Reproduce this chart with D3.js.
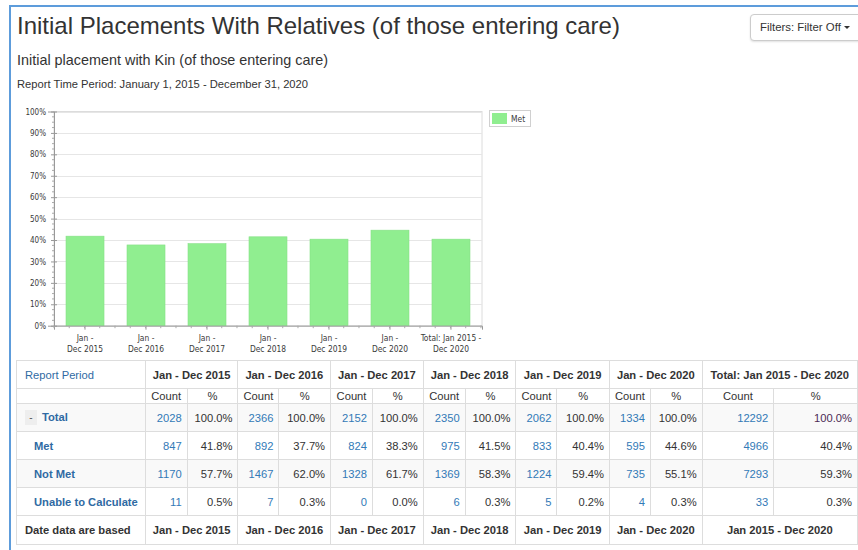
<!DOCTYPE html>
<html>
<head>
<meta charset="utf-8">
<script src="https://cdn.jsdelivr.net/npm/d3@7"></script>
<style>
  html, body { margin: 0; padding: 0; background: #fff; }
  body { width: 858px; height: 550px; position: relative; overflow: hidden;
         font-family: "Liberation Sans", Arial, sans-serif; color: #333; }
  .panel { position: absolute; left: 9px; top: 5px; width: 860px; height: 560px;
           border-top: 2px solid #5d9cdb; border-left: 2px solid #5d9cdb; }
  .title { position: absolute; left: 17px; top: 12px; font-size: 24px; color: #333; white-space: nowrap; }
  .subtitle { position: absolute; left: 17px; top: 52px; font-size: 14.4px; color: #333; white-space: nowrap; }
  .period { position: absolute; left: 17px; top: 78px; font-size: 11.2px; color: #333; white-space: nowrap; }
  .filter { position: absolute; left: 750px; top: 14px; width: 112px; height: 27px; box-sizing: border-box;
            border: 1px solid #ccc; border-radius: 4px; background: #fff;
            box-shadow: 0 1px 2px rgba(0,0,0,0.12); font-size: 11.4px; line-height: 25px; padding-left: 9px; white-space: nowrap; }
  .caret { display: inline-block; width: 0; height: 0; margin-left: 3px; vertical-align: middle;
           border-top: 3px solid #333; border-left: 3px solid transparent; border-right: 3px solid transparent; }
  svg.chart { position: absolute; left: 0; top: 0; }
  table.grid { position: absolute; left: 16px; top: 360px; border-collapse: collapse; table-layout: fixed;
               font-size: 11.2px; }
  table.grid td { border: 1px solid #ddd; padding: 0 5px; white-space: nowrap; overflow: hidden; }
  table.grid tr.head td { height: 27px; font-weight: bold; text-align: center; color: #333; }
  table.grid tr.sub td { height: 14px; text-align: center; color: #333; }
  table.grid tr.body td { height: 27px; text-align: right; }
  table.grid tr.foot td { height: 28px; font-weight: bold; text-align: center; color: #333; }
  table.grid tr.stripe td { background: #f9f9f9; }
  td.cnt { color: #337ab7; }
  td.pct { color: #333; }
  td.lbl { text-align: left !important; font-weight: bold; color: #2f6aa3; padding-left: 17px !important; }
  td.lbl.top { padding-left: 8px !important; }
  td.first { text-align: left !important; padding-left: 8px !important; }
  .toggle { display: inline-block; width: 12px; height: 15px; line-height: 15px; text-align: center;
            background: #eee; color: #555; font-weight: normal; margin-right: 5px; font-size: 10px; }
</style>
</head>
<body>
<div class="panel"></div>
<div class="title">Initial Placements With Relatives (of those entering care)</div>
<div class="subtitle">Initial placement with Kin (of those entering care)</div>
<div class="period">Report Time Period: January 1, 2015 - December 31, 2020</div>
<div class="filter">Filters: Filter Off<span class="caret"></span></div>
<svg class="chart" width="858" height="360"></svg>
<table class="grid"></table>
<script>
// Report periods (table headers) and their two-line axis labels
const periods = ["Jan - Dec 2015", "Jan - Dec 2016", "Jan - Dec 2017", "Jan - Dec 2018",
                 "Jan - Dec 2019", "Jan - Dec 2020", "Total: Jan 2015 - Dec 2020"];
const axisLines = [["Jan -", "Dec 2015"], ["Jan -", "Dec 2016"], ["Jan -", "Dec 2017"], ["Jan -", "Dec 2018"],
                   ["Jan -", "Dec 2019"], ["Jan -", "Dec 2020"], ["Total: Jan 2015 -", "Dec 2020"]];
const dateBased = ["Jan - Dec 2015", "Jan - Dec 2016", "Jan - Dec 2017", "Jan - Dec 2018",
                   "Jan - Dec 2019", "Jan - Dec 2020", "Jan 2015 - Dec 2020"];

// Counts and percentages per period
const totalCounts   = [2028, 2366, 2152, 2350, 2062, 1334, 12292];
const totalPct      = [100.0, 100.0, 100.0, 100.0, 100.0, 100.0, 100.0];
const metCounts     = [847, 892, 824, 975, 833, 595, 4966];
const metPct        = [41.8, 37.7, 38.3, 41.5, 40.4, 44.6, 40.4];
const notMetCounts  = [1170, 1467, 1328, 1369, 1224, 735, 7293];
const notMetPct     = [57.7, 62.0, 61.7, 58.3, 59.4, 55.1, 59.3];
const unableCounts  = [11, 7, 0, 6, 5, 4, 33];
const unablePct     = [0.5, 0.3, 0.0, 0.3, 0.2, 0.3, 0.3];

const yTicks = [0, 10, 20, 30, 40, 50, 60, 70, 80, 90, 100];
const seriesName = "Met";

// ---------- bar chart ----------
const svg = d3.select("svg.chart");
const plotLeft = 54, plotRight = 482, plotTop = 111.5, plotBottom = 325.7;
const axisFont = "'DejaVu Sans Condensed', 'DejaVu Sans', sans-serif";

const x = d3.scaleBand().domain(periods).range([plotLeft, plotRight]).paddingInner(0.377).paddingOuter(0.197);
const y = d3.scaleLinear().domain([0, 100]).range([plotBottom, plotTop]);

// plot frame and gridlines
svg.append("rect").attr("x", plotLeft).attr("y", plotTop).attr("width", plotRight - plotLeft).attr("height", plotBottom - plotTop)
  .attr("fill", "none").attr("stroke", "#dcdcdc");
svg.append("g").selectAll("line").data(yTicks.filter(d => d > 0)).join("line")
  .attr("x1", plotLeft).attr("x2", plotRight).attr("y1", d => Math.round(y(d)) + 0.5).attr("y2", d => Math.round(y(d)) + 0.5)
  .attr("stroke", "#e6e6e6");

// bars
svg.append("g").selectAll("rect").data(periods).join("rect")
  .attr("x", d => x(d)).attr("width", x.bandwidth())
  .attr("y", (d, i) => y(metPct[i])).attr("height", (d, i) => y(0) - y(metPct[i]))
  .attr("fill", "#90ee90").attr("stroke", "#86e086").attr("stroke-width", 0.6);

// y axis with minor ticks
const yAxis = svg.append("g").attr("transform", `translate(${plotLeft},0)`)
  .call(d3.axisLeft(y).tickValues(yTicks).tickFormat(d => d + "%").tickSize(6).tickPadding(4));
yAxis.select(".domain").attr("stroke", "#999");
yAxis.selectAll(".tick line").attr("stroke", "#999").attr("transform", "translate(3,0)");
yAxis.selectAll("text").attr("font-family", axisFont).attr("font-size", 8).attr("fill", "#3a3a3a").attr("dx", 2);
svg.append("g").selectAll("line").data(d3.range(0, 100, 2.5).filter(v => v % 10 !== 0)).join("line")
  .attr("x1", plotLeft - 2).attr("x2", plotLeft).attr("y1", d => y(d)).attr("y2", d => y(d)).attr("stroke", "#aaa");

// x axis line with ticks
const xAxis = svg.append("g").attr("transform", `translate(0,${plotBottom})`)
  .call(d3.axisBottom(x).tickSize(4).tickFormat(""));
xAxis.select(".domain").attr("stroke", "#999");
xAxis.selectAll(".tick line").attr("stroke", "#999");
const minorX = d3.range(plotLeft, plotRight, x.step() / 4);
svg.append("g").selectAll("line").data(minorX).join("line")
  .attr("x1", d => d).attr("x2", d => d).attr("y1", plotBottom).attr("y2", plotBottom + 2.5).attr("stroke", "#aaa");

// two-line category labels
const labels = svg.append("g").selectAll("text").data(periods).join("text")
  .attr("x", d => x(d) + x.bandwidth() / 2).attr("text-anchor", "middle")
  .attr("font-family", axisFont).attr("font-size", 8.4).attr("fill", "#3a3a3a");
labels.each(function (d, i) {
  d3.select(this).selectAll("tspan").data(axisLines[i]).join("tspan")
    .attr("x", x(d) + x.bandwidth() / 2).attr("y", (t, j) => 341 + j * 11).text(t => t);
});

// legend
const lg = svg.append("g");
lg.append("rect").attr("x", 489.5).attr("y", 110.5).attr("width", 41).attr("height", 16)
  .attr("fill", "#fff").attr("stroke", "#d0d0d0");
lg.append("rect").attr("x", 492).attr("y", 113).attr("width", 15).attr("height", 11).attr("fill", "#90ee90");
lg.append("text").attr("x", 511).attr("y", 121.5).attr("font-family", axisFont).attr("font-size", 8.4)
  .attr("fill", "#3a3a3a").text(seriesName);

// ---------- data table ----------
const table = d3.select("table.grid");
const colWidths = [129, 42, 51, 41, 52, 42, 51, 42, 51, 41, 53, 41, 52, 72, 84];
table.append("colgroup").selectAll("col").data(colWidths).join("col").style("width", d => d + "px");

const fmt = v => v.toFixed(1) + "%";

const head = table.append("tr").attr("class", "head");
head.append("td").attr("class", "first").style("font-weight", "normal").style("color", "#2f6aa3").text("Report Period");
head.selectAll("td.g").data(periods).join("td").attr("class", "g").attr("colspan", 2).text(d => d);

const sub = table.append("tr").attr("class", "sub");
sub.append("td");
periods.forEach(() => { sub.append("td").text("Count"); sub.append("td").text("%"); });

const bodyRows = [
  { name: "Total", counts: totalCounts, pcts: totalPct, stripe: true, first: true },
  { name: "Met", counts: metCounts, pcts: metPct, stripe: false },
  { name: "Not Met", counts: notMetCounts, pcts: notMetPct, stripe: true },
  { name: "Unable to Calculate", counts: unableCounts, pcts: unablePct, stripe: false }
];
bodyRows.forEach(r => {
  const tr = table.append("tr").attr("class", "body" + (r.stripe ? " stripe" : ""));
  const lbl = tr.append("td").attr("class", "lbl" + (r.first ? " top" : ""));
  if (r.first) lbl.append("span").attr("class", "toggle").text("-");
  lbl.append("span").text(r.name);
  r.counts.forEach((c, i) => {
    tr.append("td").attr("class", "cnt").text(c);
    const p = tr.append("td").attr("class", "pct").text(fmt(r.pcts[i]));
    if (r.first && i === periods.length - 1) p.style("color", "#4d2b55");
  });
});

const foot = table.append("tr").attr("class", "foot");
foot.append("td").attr("class", "first").text("Date data are based");
foot.selectAll("td.g").data(dateBased).join("td").attr("class", "g").attr("colspan", 2).text(d => d);
</script>
</body>
</html>
